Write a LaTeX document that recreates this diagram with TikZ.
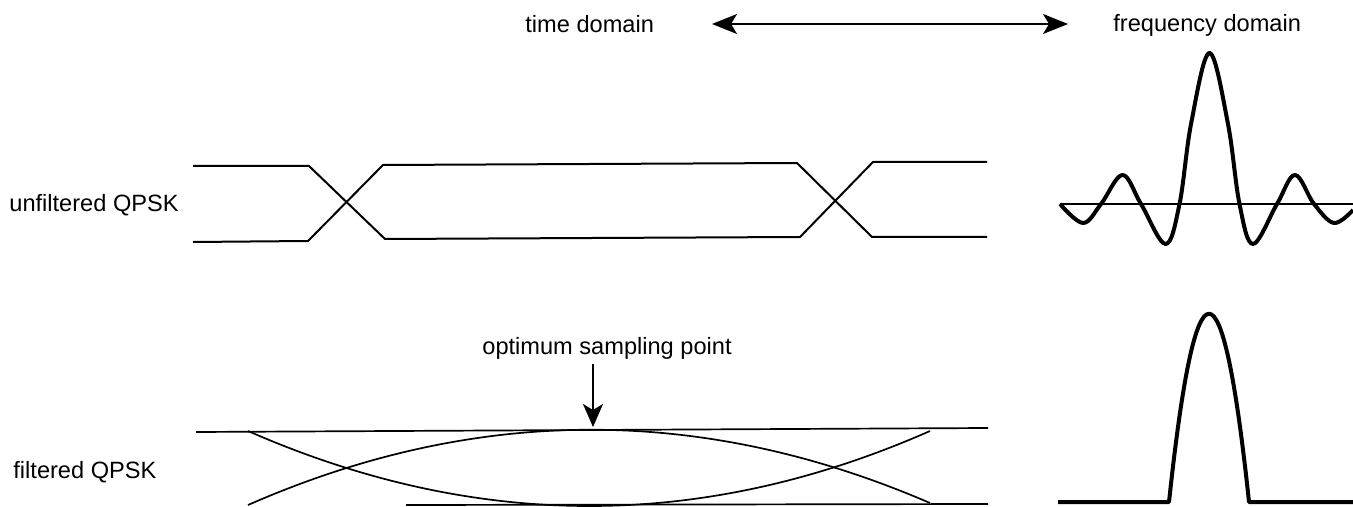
\documentclass[tikz,border=0pt]{standalone}
\usepackage{fontspec}
\setmainfont{Liberation Sans}
\usetikzlibrary{arrows.meta}
\tikzstyle{caption text}=[inner sep=0pt, anchor=base west, font=\fontsize{11.8}{14}\selectfont]
\tikzstyle{eye line}=[line width=1pt, line join=round]
\tikzstyle{soft eye}=[line width=0.85pt]
\tikzstyle{spectrum}=[line width=2pt, line join=round]
\tikzstyle{axis line}=[line width=1pt]
\tikzstyle{pointer}=[line width=1pt, -{Stealth[length=11.5pt, width=10pt, inset=3pt]}]
\tikzstyle{both ways}=[line width=0.85pt, {Stealth[length=12.5pt, width=10pt, inset=3pt]}-{Stealth[length=12.5pt, width=10pt, inset=3pt]}]
\pgfdeclarelayer{nodelayer}
\pgfdeclarelayer{edgelayer}
\pgfsetlayers{nodelayer,edgelayer,main}

\begin{document}
\begin{tikzpicture}[x=0.5pt, y=-0.5pt]
    	\useasboundingbox (0,0) rectangle (1353,507);
    	\begin{pgfonlayer}{nodelayer}
    		\node [style=caption text] (time) at (525, 33) {time domain};
    		\node [style=caption text] (freq) at (1113, 32) {frequency domain};
    		\node [style=caption text] (unf) at (9, 212) {unfiltered QPSK};
    		\node [style=caption text] (filt) at (13, 478) {filtered QPSK};
    		\node [style=caption text] (opt) at (482, 355) {optimum sampling point};
    		\coordinate (tdEnd) at (712, 24);
    		\coordinate (fdEnd) at (1068, 24);
    		\coordinate (optTop) at (593, 364);
    		\coordinate (optTip) at (593, 427);
    	\end{pgfonlayer}
    	\begin{pgfonlayer}{edgelayer}
    		\draw [style=both ways] (tdEnd) to (fdEnd);
    		\draw [style=pointer] (optTop) to (optTip);
    		% unfiltered eye
    		\draw [style=eye line] (193, 166) -- (309, 166) -- (385, 239) -- (800, 237) -- (873, 162) -- (987, 162);
    		\draw [style=eye line] (193, 242) -- (308, 241) -- (383, 165) -- (797, 163) -- (872, 237) -- (987, 237);
    		% filtered eye
    		\draw [style=soft eye] (196, 432) -- (988, 428);
    		\draw [style=soft eye] (406, 505) -- (988, 504);
    		\draw [style=soft eye] (248, 431) .. controls (476, 531) and (703, 531) .. (930, 431);
    		\draw [style=soft eye] (248, 505) .. controls (476, 405) and (703, 405) .. (930, 503);
    		% spectra
    		\draw [style=axis line] (1060, 204) -- (1353, 204);
    		\draw [style=spectrum] plot [smooth, tension=0.6] coordinates {(1060,204) (1083,223) (1101,204) (1122.5,175) (1141,204) (1165.5,244) (1179.5,204) (1191.2,123) (1209.5,53) (1227.8,123) (1239.5,204) (1253,244) (1277,204) (1295,175) (1314,204) (1334,223) (1353,210)};
    		\draw [style=spectrum] (1058, 502) -- (1169, 502) .. controls (1195.7, 251) and (1222.3, 251) .. (1249, 502) -- (1353, 502);
    	\end{pgfonlayer}
\end{tikzpicture}
\end{document}
